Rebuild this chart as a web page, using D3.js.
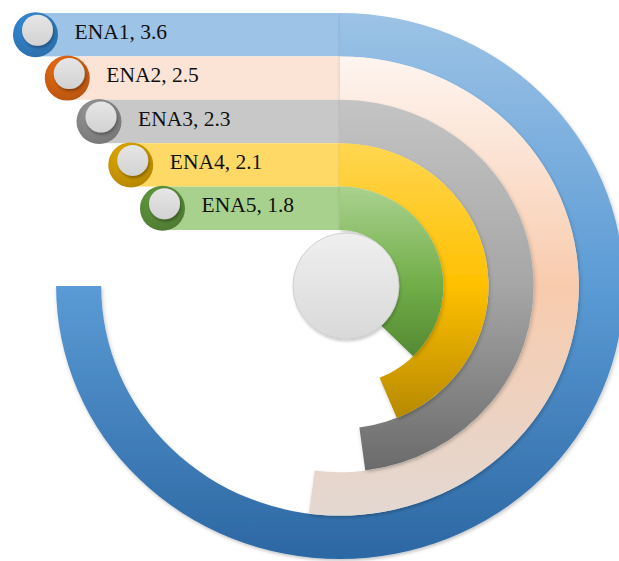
<!DOCTYPE html>
<html>
<head>
<meta charset="utf-8">
<script src="https://cdn.jsdelivr.net/npm/d3@7"></script>
<style>
  html, body { margin: 0; padding: 0; background: #fff; }
  svg { display: block; }
</style>
</head>
<body>
<div id="chart"></div>
<script>
// ---- data ----
const categories = ["ENA1", "ENA2", "ENA3", "ENA4", "ENA5"];
const values = [3.6, 2.5, 2.3, 2.1, 1.8];
const scaleMax = 4.8;   // value that would close a full circle

// ---- styles ----
const barColors = ["#9DC3E6", "#FBE4D5", "#C8C8C8", "#FFD966", "#A9D18E"];
const capColors = ["#2E75B6", "#C55A11", "#7F7F7F", "#BF9000", "#548235"];
const arcStops = [
  ["#9DC3E6", "#5B9BD5", "#2C67A3"],
  ["#FEF5F0", "#F8CBAD", "#E3D8D2"],
  ["#C4C4C4", "#A6A6A6", "#6A6A6A"],
  ["#FFD650", "#FFC000", "#B08500"],
  ["#AAD28F", "#70AD47", "#497A2B"]
];

const W = 619, H = 561;
const cx = 340, cy = 286;
const sx = 1.04;

const svg = d3.select("#chart").append("svg")
  .attr("width", W).attr("height", H);

const defs = svg.append("defs");
const sh = defs.append("filter").attr("id", "shadow")
  .attr("x", "-20%").attr("y", "-20%").attr("width", "140%").attr("height", "140%");
sh.append("feDropShadow").attr("dx", 1).attr("dy", 2).attr("stdDeviation", 1.8)
  .attr("flood-color", "#000").attr("flood-opacity", 0.22);
const sh2 = defs.append("filter").attr("id", "shadow2")
  .attr("x", "-30%").attr("y", "-30%").attr("width", "160%").attr("height", "160%");
sh2.append("feDropShadow").attr("dx", 1).attr("dy", 2).attr("stdDeviation", 1.5)
  .attr("flood-color", "#000").attr("flood-opacity", 0.35);

// ---- scales ----
const angle = d3.scaleLinear().domain([0, scaleMax]).range([0, 2 * Math.PI]);
const radius = d3.scaleBand().domain(categories).range([273, 56]).padding(0);
const capX = d3.scalePoint().domain(categories).range([35.5, 162.5]);

const data = categories.map((c, i) => ({ cat: c, value: values[i], i }));

// gradients for arcs
data.forEach(d => {
  const inner = radius(d.cat), outer = inner + radius.bandwidth();
  const g = defs.append("linearGradient").attr("id", "grad" + d.i)
    .attr("gradientUnits", "userSpaceOnUse")
    .attr("x1", 0).attr("x2", 0).attr("y1", -outer).attr("y2", outer);
  arcStops[d.i].forEach((col, k) => {
    g.append("stop").attr("offset", k / 2).attr("stop-color", col);
  });
  const cg = defs.append("radialGradient").attr("id", "capg" + d.i)
    .attr("cx", "40%").attr("cy", "30%").attr("r", "75%");
  cg.append("stop").attr("offset", 0).attr("stop-color", d3.color(capColors[d.i]).brighter(0.5));
  cg.append("stop").attr("offset", 1).attr("stop-color", d3.color(capColors[d.i]).darker(0.2));
});
const knob = defs.append("linearGradient").attr("id", "knob")
  .attr("x1", 0).attr("x2", 0).attr("y1", 0).attr("y2", 1);
knob.append("stop").attr("offset", 0).attr("stop-color", "#E6E6E6");
knob.append("stop").attr("offset", 1).attr("stop-color", "#D2D2D2");
const hub = defs.append("linearGradient").attr("id", "hub")
  .attr("x1", 0).attr("x2", 0).attr("y1", 0).attr("y2", 1);
hub.append("stop").attr("offset", 0).attr("stop-color", "#EFEFEF");
hub.append("stop").attr("offset", 1).attr("stop-color", "#D9D9D9");

// ---- horizontal bars ----
svg.append("g").selectAll("rect").data(data).join("rect")
  .attr("x", d => capX(d.cat))
  .attr("y", d => cy - radius(d.cat) - radius.bandwidth())
  .attr("width", d => cx - capX(d.cat) + 0.5)
  .attr("height", radius.bandwidth())
  .attr("fill", d => barColors[d.i]);

// ---- arcs ----
const arc = d3.arc()
  .innerRadius(d => radius(d.cat))
  .outerRadius(d => radius(d.cat) + radius.bandwidth())
  .startAngle(0)
  .endAngle(d => angle(d.value));

svg.append("g")
  .attr("transform", `translate(${cx},${cy}) scale(${sx},1)`)
  .selectAll("path").data(data).join("path")
  .attr("d", arc)
  .attr("fill", d => `url(#grad${d.i})`)
  .attr("filter", "url(#shadow)");

// ---- center hub ----
svg.append("circle")
  .attr("cx", cx + 6).attr("cy", cy).attr("r", 53)
  .attr("fill", "url(#hub)")
  .attr("stroke", "#C9C9C9").attr("stroke-width", 0.8)
  .attr("filter", "url(#shadow)");

// ---- caps ----
const caps = svg.append("g").selectAll("g").data(data).join("g")
  .attr("transform", d => `translate(${capX(d.cat)},${cy - radius(d.cat) - radius.bandwidth() / 2})`);
caps.append("circle").attr("r", 22.5)
  .attr("fill", d => `url(#capg${d.i})`);
caps.append("circle").attr("cx", 2).attr("cy", -4.5).attr("r", 15.5)
  .attr("fill", "url(#knob)")
  .attr("filter", "url(#shadow2)");

// ---- labels ----
svg.append("g").selectAll("text").data(data).join("text")
  .attr("x", d => capX(d.cat) + 39)
  .attr("y", d => cy - radius(d.cat) - radius.bandwidth() / 2 + 4)
  .attr("font-family", "'Palatino Linotype', 'Book Antiqua', Palatino, 'Liberation Serif', serif")
  .attr("font-size", 21.5)
  .attr("fill", "#111")
  .text(d => `${d.cat}, ${d.value}`);
</script>
</body>
</html>
